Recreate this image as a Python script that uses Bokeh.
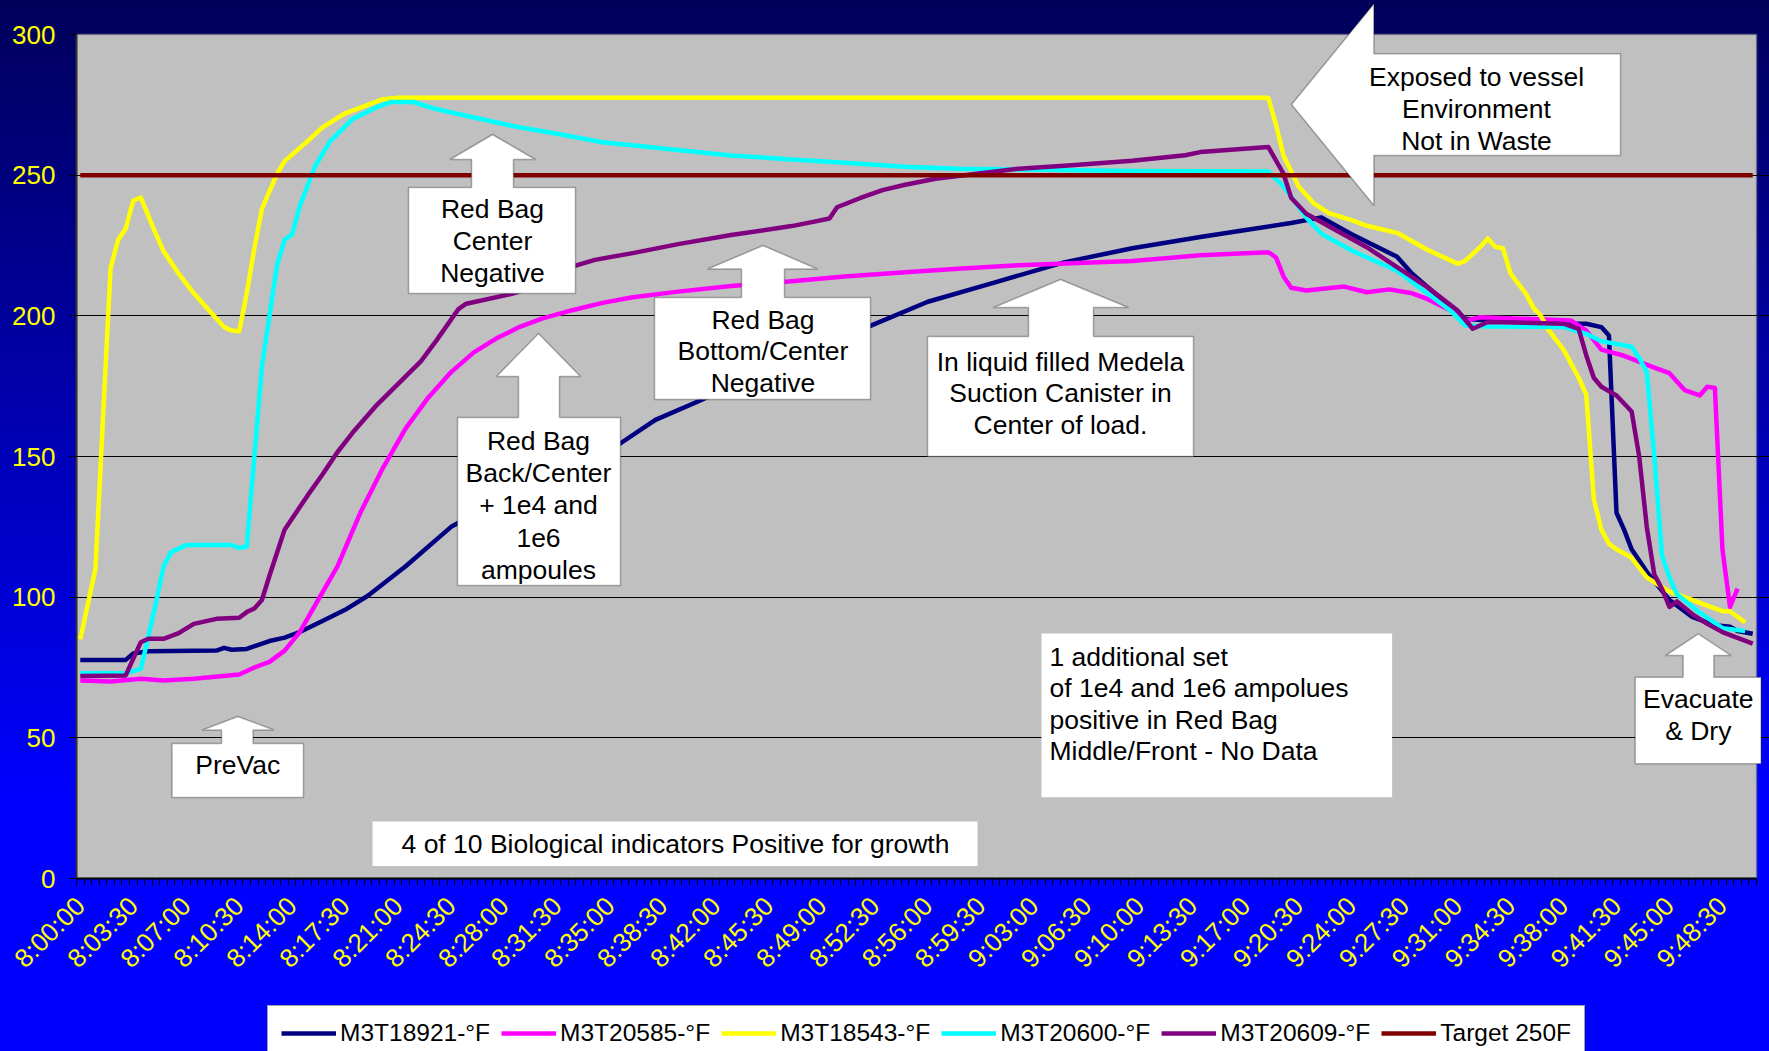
from math import pi
from bokeh.plotting import figure
from bokeh.layouts import column
from bokeh.models import (Range1d, FixedTicker, Legend, LegendItem, PolyAnnotation,
                          Label, BoxAnnotation)
from bokeh.embed import file_html
from bokeh.resources import INLINE

# ---------------- data ----------------
# readings every 30 s starting 8:00:00 ; x = reading number
n_readings = 222
tick_labels = ["8:00:00", "8:03:30", "8:07:00", "8:10:30", "8:14:00", "8:17:30", "8:21:00",
               "8:24:30", "8:28:00", "8:31:30", "8:35:00", "8:38:30", "8:42:00", "8:45:30",
               "8:49:00", "8:52:30", "8:56:00", "8:59:30", "9:03:00", "9:06:30", "9:10:00",
               "9:13:30", "9:17:00", "9:20:30", "9:24:00", "9:27:30", "9:31:00", "9:34:30",
               "9:38:00", "9:41:30", "9:45:00", "9:48:30"]
y_ticks = [0, 50, 100, 150, 200, 250, 300]

navy_reading = [0, 6, 7, 9, 18, 19, 20, 22, 25, 27, 29, 32, 35, 38, 43, 49, 60, 71, 76, 82, 93,
                104, 112, 121, 130, 139, 148, 154, 160, 164, 168, 174, 176, 179, 183, 186, 197,
                199, 201, 202, 203, 204, 205, 207, 210, 213, 216, 218, 219, 221]
navy_temp = [77.7, 77.7, 80.0, 80.8, 81.0, 82.0, 81.3, 81.6, 84.4, 85.6, 87.6, 91.5, 95.5, 100.5,
             111, 125, 141, 154, 163, 170, 184, 196, 205, 212, 219, 224, 228, 230.5, 233, 235,
             229, 221, 215, 208, 199, 198.3, 197.2, 197.2, 196, 193, 130, 124, 117, 109, 99,
             93, 90, 89.5, 88, 87]

magenta_reading = [0, 4, 8, 11, 15, 21, 23, 25, 27, 29, 31, 34, 37, 40, 43, 46, 49, 52, 55, 58,
                   61, 65, 69, 73, 79, 86, 94, 101, 109, 116, 124, 131, 139, 148, 157, 158, 159,
                   160, 162, 167, 170, 173, 176, 178, 182, 183, 185, 197, 199, 201, 204, 208,
                   210, 212, 214, 215, 216, 217, 218, 219]
magenta_temp = [70.4, 70.0, 71.0, 70.4, 71.0, 72.5, 75.0, 77.0, 81.0, 87.6, 97, 111, 130, 146,
                160, 171, 180, 187, 192, 196, 199, 202, 204.6, 206.6, 208.6, 210.6, 212.3, 214,
                215.5, 216.7, 218, 218.7, 219.5, 221.5, 222.6, 220.8, 214, 210, 209, 210.4,
                208.4, 209.4, 208, 206, 200.7, 198.3, 199.5, 198.3, 194.8, 188, 185.8, 181.6,
                179.6, 173.6, 171.7, 174.8, 174.4, 117, 96.5, 103]

yellow_reading = [0, 2, 4, 5, 6, 7, 8, 10, 11, 13, 15, 17, 19, 20, 21, 22, 23, 24, 26, 27, 30,
                  32, 35, 38, 40, 42, 157, 158, 159, 161, 163, 165, 168, 170, 174, 176, 178, 182,
                  183, 185, 186, 187, 188, 189, 191, 192, 193, 194, 196, 197, 198, 199, 200,
                  201, 202, 203, 205, 207, 210, 213, 215, 217, 218, 220]
yellow_temp = [85, 110, 217, 227, 231, 241, 242, 229, 223, 215, 208, 202, 196, 194.8, 194.5,
               208, 224, 238, 250.5, 255, 262, 267, 272, 275, 277, 277.5, 277.5, 268, 257,
               246, 240, 236.5, 234, 232, 229.5, 226.5, 223.5, 218.5, 219.5, 224.5, 227.5,
               224.5, 224, 215, 208, 203, 200, 195, 188, 183, 178, 172, 135, 124, 119, 117,
               114, 107, 102, 99, 97, 95, 95, 91]

cyan_reading = [0, 6, 8, 9, 10, 11, 12, 14, 20, 21, 22, 23, 24, 25, 26, 27, 28, 29, 31, 33, 36,
                39, 41, 44, 47, 52, 58, 63, 69, 86, 94, 101, 109, 116, 124, 139, 157, 159, 162,
                164, 168, 174, 177, 181, 183, 186, 196, 199, 201, 205, 206, 207, 208, 209, 210,
                211, 214, 217, 220]
cyan_temp = [73, 73, 74.5, 86, 98, 111, 116, 118.5, 118.5, 117.5, 118, 150, 182, 200, 218,
             227, 229, 239, 253, 262, 270, 274, 276, 276, 273.5, 270.5, 267, 264.7, 261.7,
             257, 255.6, 254.4, 253, 252.3, 252, 251.5, 251.3, 246, 235, 229.2, 223.2, 216,
             210, 202, 196.6, 196.2, 196, 193.6, 191, 189, 185, 180, 150, 115, 107, 101, 94.5,
             89, 88]

purple_reading = [0, 6, 8, 9, 11, 13, 15, 18, 21, 22, 23, 24, 25, 27, 30, 32, 34, 36, 39, 42,
                  45, 47, 50, 51, 57, 61, 64, 68, 73, 79, 86, 94, 97, 99, 100, 103, 106, 109,
                  113, 119, 124, 131, 139, 146, 148, 157, 159, 160, 162, 166, 170, 174, 178,
                  182, 184, 186, 196, 198, 199, 200, 201, 203, 205, 206, 207, 208, 209, 210,
                  211, 213, 215, 217, 219, 221]
purple_temp = [72, 72.2, 84, 85.2, 85.2, 87.2, 90.5, 92.3, 92.7, 94.7, 96, 99, 107.6, 124, 136,
               143.6, 151.6, 158.5, 167.8, 175.8, 183.8, 191, 202.5, 204.3, 207.8, 211, 216.7,
               219.9, 222.3, 225.5, 228.7, 231.9, 233.5, 234.6, 238.6, 241.8, 244.7, 246.6,
               248.7, 250.7, 252.3, 253.5, 255.1, 257.1, 258.2, 260, 250.5, 242, 236.3, 230.3,
               224.4, 217.3, 210.2, 201.9, 195.4, 197.8, 197.2, 195.4, 186, 178, 174.8, 171.7,
               166, 150, 125, 108, 103, 96.5, 98.5, 94, 90.5, 87.6, 85.5, 83.5]

target_reading = [0, 221]
target_temp = [250, 250]

series_names = ["M3T18921-°F", "M3T20585-°F", "M3T18543-°F", "M3T20600-°F", "M3T20609-°F",
                "Target 250F"]
series_colors = ["#000080", "#FF00FF", "#FFFF00", "#00FFFF", "#800080", "#800000"]

# ---------------- layout constants ----------------
FONT = "Liberation Sans"
W, H = 1769, 1051
FL, FT, FW, FH = 76, 34, 1680, 844      # grey plot area (px)
MAIN_H = 995                            # main figure height; legend strip below
CAT_W = FW / n_readings
Y_PX = FH / 300.0

def px_x(fx):
    return (fx - FL) / CAT_W - 0.5

def px_y(fy):
    return (FT + FH - fy) / Y_PX

x_start = -0.5
x_end = px_x(W)
y_end = px_y(0)

p = figure(width=W, height=MAIN_H,
           x_range=Range1d(x_start, x_end), y_range=Range1d(0, y_end),
           output_backend="svg", toolbar_location=None,
           min_border_left=FL, min_border_right=0, min_border_top=0,
           min_border_bottom=MAIN_H - (FT + FH))
p.border_fill_color = None
p.background_fill_color = None
p.outline_line_color = None

# grey plot area
p.add_layout(BoxAnnotation(left=-0.5, right=n_readings - 0.5, bottom=0, top=300,
                           fill_color="#C0C0C0", fill_alpha=1, line_color="#808080",
                           line_width=2, level="image"))

# y axis
p.yaxis.ticker = FixedTicker(ticks=y_ticks)
p.yaxis.bounds = (0, 300)
p.yaxis.major_label_text_color = "#FFFF00"
p.yaxis.major_label_text_font = FONT
p.yaxis.major_label_text_font_size = "26px"
p.yaxis.major_label_standoff = 14
p.yaxis.major_tick_out = 7
p.yaxis.major_tick_in = 0
p.yaxis.major_tick_line_color = "black"
p.yaxis.minor_tick_line_color = None
p.yaxis.axis_line_color = "#303030"
p.yaxis.axis_line_width = 2

# x axis
def t2i(s):
    h, m, sec = (int(v) for v in s.split(":"))
    return ((h - 8) * 3600 + m * 60 + sec) // 30

tick_pos = [t2i(s) for s in tick_labels]
p.xaxis.ticker = FixedTicker(ticks=tick_pos,
                             minor_ticks=[i - 0.5 for i in range(n_readings + 1)])
p.xaxis.bounds = (-0.5, n_readings - 0.5)
p.xaxis.major_label_overrides = {tp: s for tp, s in zip(tick_pos, tick_labels)}
p.xaxis.major_label_orientation = pi / 4
p.xaxis.major_label_text_color = "#FFFF00"
p.xaxis.major_label_text_font = FONT
p.xaxis.major_label_text_font_size = "26px"
p.xaxis.major_label_standoff = 16
p.xaxis.major_tick_line_color = None
p.xaxis.major_tick_out = 7
p.xaxis.major_tick_in = 0
p.xaxis.minor_tick_out = 7
p.xaxis.minor_tick_in = 0
p.xaxis.minor_tick_line_color = "black"
p.xaxis.axis_line_color = "black"
p.xaxis.axis_line_width = 2

p.xgrid.visible = False
p.ygrid.ticker = FixedTicker(ticks=[50, 100, 150, 200, 250])
p.ygrid.bounds = (-0.5, n_readings - 0.5)
p.ygrid.grid_line_color = "black"
p.ygrid.grid_line_width = 1

all_x = [navy_reading, magenta_reading, yellow_reading, cyan_reading, purple_reading, target_reading]
all_y = [navy_temp, magenta_temp, yellow_temp, cyan_temp, purple_temp, target_temp]
for xs, ys, c in zip(all_x, all_y, series_colors):
    p.line(xs, ys, line_color=c, line_width=4.5, line_join="round")

# ---------------- annotations ----------------
def add_poly(pts):
    p.add_layout(PolyAnnotation(xs=[px_x(a) for a, b in pts], ys=[px_y(b) for a, b in pts],
                                fill_color="white", fill_alpha=1, line_color="black",
                                line_width=1.5))

def up_callout(box, tip, hb, head, shaft):
    x0, y0, x1, y1 = box
    pts = [(x0, y1), (x0, y0), (shaft[0], y0), (shaft[0], hb), (head[0], hb), tip,
           (head[1], hb), (shaft[1], hb), (shaft[1], y0), (x1, y0), (x1, y1)]
    add_poly(pts)

def add_text(x, y, s, align="center"):
    p.add_layout(Label(x=px_x(x), y=px_y(y), text=s, text_align=align, text_baseline="middle",
                       text_font=FONT, text_font_size="26.5px", text_color="black"))

up_callout((408, 187, 575, 293), (492, 134), 159, (449.5, 535), (471, 513))
for yy, s in zip([208, 240, 272], ["Red Bag", "Center", "Negative"]):
    add_text(492, yy, s)

up_callout((171.5, 743, 303, 797), (237.3, 716), 729.5, (201.7, 273.6), (221, 252.6))
add_text(237.3, 764, "PreVac")

up_callout((457, 417, 620, 585), (538, 333), 376, (496, 580), (518, 559))
for yy, s in zip([440, 472, 504, 537, 569], ["Red Bag", "Back/Center", "+ 1e4 and", "1e6", "ampoules"]):
    add_text(538, yy, s)

up_callout((654, 297, 870, 399), (762.5, 245), 268.5, (707, 817), (741, 784))
for yy, s in zip([319, 350, 382], ["Red Bag", "Bottom/Center", "Negative"]):
    add_text(762.5, yy, s)

up_callout((927, 336, 1193, 456), (1060, 279), 307, (993, 1128), (1028, 1093))
for yy, s in zip([361, 392.5, 424], ["In liquid filled Medela", "Suction Canister in", "Center of load."]):
    add_text(1060, yy, s)

add_poly([(1291, 104), (1373.4, 3.3), (1373.4, 53.3), (1620, 53.3), (1620, 155),
          (1373.4, 155), (1373.4, 205)])
for yy, s in zip([76, 108, 140], ["Exposed to vessel", "Environment", "Not in Waste"]):
    add_text(1476, yy, s)

up_callout((1634.7, 676.7, 1760.6, 763.3), (1697.8, 633.3), 655, (1665, 1730.5), (1682.6, 1713.4))
for yy, s in zip([698, 730], ["Evacuate", "& Dry"]):
    add_text(1697.8, yy, s)

p.add_layout(BoxAnnotation(left=px_x(372), right=px_x(977), top=px_y(821), bottom=px_y(865.5),
                           fill_color="white", fill_alpha=1, line_color=None))
add_text(675, 843, "4 of 10 Biological indicators Positive for growth")

p.add_layout(BoxAnnotation(left=px_x(1041), right=px_x(1391.6), top=px_y(633), bottom=px_y(796.7),
                           fill_color="white", fill_alpha=1, line_color=None))
for yy, s in zip([656, 687, 719, 750], ["1 additional set", "of 1e4 and 1e6 ampolues",
                                         "positive in Red Bag", "Middle/Front - No Data"]):
    add_text(1049, yy, s, align="left")

# ---------------- legend strip ----------------
# (its frame is aligned with the main frame by the column layout, i.e. starts at x = FL)
LEG_H = H - MAIN_H
q = figure(width=W, height=LEG_H, x_range=Range1d(0, 1), y_range=Range1d(0, 1),
           output_backend="svg", toolbar_location=None, min_border=0,
           x_axis_location=None, y_axis_location=None)
q.border_fill_color = None
q.background_fill_color = None
q.outline_line_color = None
q.grid.visible = False
# same series, drawn out of this strip's view: they only feed the legend swatches
leg_renderers = [q.line(xs, ys, line_color=c, line_width=4.5)
                 for xs, ys, c in zip(all_x, all_y, series_colors)]
legend = Legend(items=[LegendItem(label=n, renderers=[r]) for n, r in zip(series_names, leg_renderers)],
                orientation="horizontal", location=(267 - FL, LEG_H - 12 - 54),
                label_text_font=FONT, label_text_font_size="24.5px", label_text_color="black",
                glyph_width=55, glyph_height=28, label_height=28, label_standoff=4,
                spacing=11, padding=13, margin=0,
                border_line_color="#404040", border_line_width=1,
                background_fill_color="white", background_fill_alpha=1)
q.add_layout(legend, "center")

page = column(p, q, spacing=0,
              styles={"background": "linear-gradient(to bottom, #00005A 0%, #0000FF 76%, #0000FF 100%)"})

open("out.html", "w").write(file_html(page, INLINE))
